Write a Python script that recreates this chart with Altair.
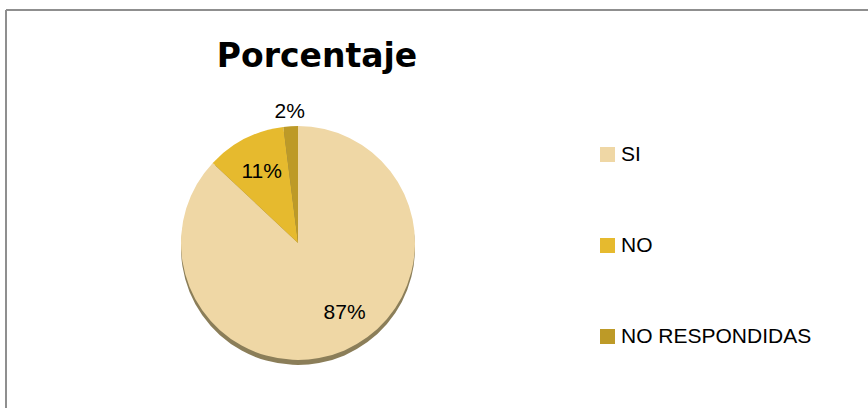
import altair as alt
import pandas as pd

categories = ["SI", "NO", "NO RESPONDIDAS"]
values = [87, 11, 2]
labels = ["87%", "11%", "2%"]
colors = ["#EFD7A5", "#E6BA2E", "#BD9A27"]
title_text = "Porcentaje"

df = pd.DataFrame({"cat": categories, "value": values, "label": labels, "idx": [0, 1, 2]})
one = pd.DataFrame({"k": [0]})

CX, CY, R = 298, 243, 117
FONT = "Liberation Sans"

border_top = alt.Chart(one).mark_rule(color="#8f8f8f", strokeWidth=2).encode(
    x=alt.value(6), x2=alt.value(868), y=alt.value(10))
border_left = alt.Chart(one).mark_rule(color="#8f8f8f", strokeWidth=2).encode(
    x=alt.value(6), y=alt.value(10), y2=alt.value(408))

theta = alt.Theta("value:Q", stack=True)
order = alt.Order("idx:Q")

shadow = alt.Chart(df).mark_arc(outerRadius=R, opacity=0.8).encode(
    theta=theta, order=order, color=alt.value("#6E5E30"),
    x=alt.value(CX), y=alt.value(CY + 5))

pie = alt.Chart(df).mark_arc(outerRadius=R).encode(
    theta=theta, order=order,
    color=alt.Color("cat:N", scale=alt.Scale(domain=categories, range=colors),
                    legend=alt.Legend(title=None, orient="none", legendX=597, legendY=144,
                                      symbolType="square", symbolSize=225, symbolStrokeWidth=0,
                                      labelFontSize=21, labelFont=FONT, labelColor="black",
                                      labelOffset=3, rowPadding=69, labelLimit=400, padding=0)),
    x=alt.value(CX), y=alt.value(CY))

def label_layer(cat, radius, dx=0, dy=0):
    return alt.Chart(df).mark_text(radius=radius, fontSize=21, font=FONT, color="black",
                                   dx=dx, dy=dy, align="center", baseline="middle").encode(
        theta=theta, order=order, text="label:N",
        opacity=alt.condition(alt.datum.cat == cat, alt.value(1), alt.value(0)),
        x=alt.value(CX), y=alt.value(CY))

lab_si = label_layer("SI", 87, 12, -10)
lab_no = label_layer("NO", 80)
lab_nr = label_layer("NO RESPONDIDAS", 131)

title = alt.Chart(one).mark_text(fontSize=33, font="DejaVu Sans", fontWeight="bold",
                                 color="black", align="center", baseline="alphabetic").encode(
    x=alt.value(317), y=alt.value(67), text=alt.value(title_text))

chart = alt.layer(border_top, border_left, shadow, pie, lab_si, lab_no, lab_nr, title).properties(
    width=868, height=408, padding=0,
    autosize=alt.AutoSizeParams(type="none"),
    background="white"
).configure_view(stroke=None)

chart.save("out.html", embed_options={"renderer": "svg", "actions": False})
